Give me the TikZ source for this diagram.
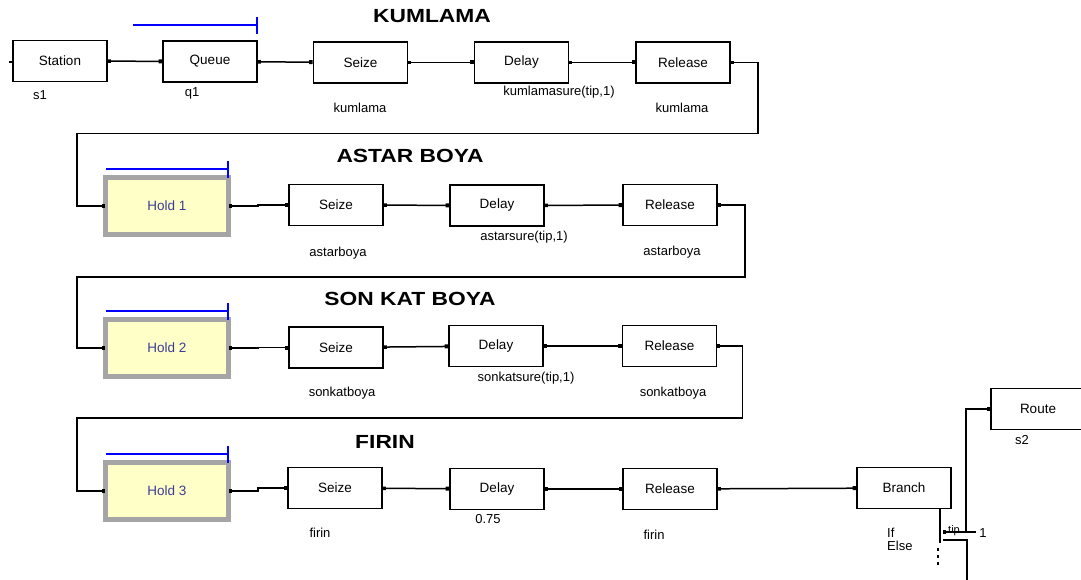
\documentclass[tikz,border=0pt]{standalone}
\usepackage{fontspec}
\setmainfont{Liberation Sans}
\newfontfamily\titlefont[FakeStretch=1.2]{Liberation Sans Bold}
\usetikzlibrary{arrows.meta}
\definecolor{holdfill}{RGB}{255,255,200}
\definecolor{holdtext}{RGB}{60,60,150}
\definecolor{holdgray}{RGB}{165,165,165}
\definecolor{qblue}{RGB}{0,0,255}

\tikzset{
  module/.style={draw, line width=1.8pt, minimum width=94pt, minimum height=41pt,
    inner sep=0pt, font=\fontsize{13.5}{15}\selectfont},
  hold/.style={draw=black!60, double=holdgray, double distance=4.2pt, line width=0.7pt,
    fill=holdfill, minimum width=123pt, minimum height=57pt, inner sep=0pt,
    text=holdtext, font=\fontsize{13.5}{15}\selectfont},
  lbl/.style={font=\fontsize{13}{14}\selectfont, inner sep=0pt},
  title/.style={font=\titlefont\fontsize{19}{22}\selectfont, inner sep=0pt},
  flow/.style={line width=1.5pt, {Square[length=3pt,width=3.5pt]}-{Square[length=3.5pt,width=4pt]}},
  qbar/.style={qblue, line width=1.6pt, -{Bar[width=17pt,line width=1.6pt]}},
}

\begin{document}
\begin{tikzpicture}[x=1pt, y=-1pt]
\clip (0,0) rectangle (1081,580);

% titles
\node[title] (tK) at (432,16) {KUMLAMA};
\node[title] (tA) at (410,156) {ASTAR BOYA};
\node[title] (tS) at (410,299) {SON KAT BOYA};
\node[title] (tF) at (385,442) {FIRIN};

% kumlama
\node[module] (station) at (60,61) {Station};
\node[module] (queue) at (210,61.5) {Queue};
\node[module] (seize1) at (360.5,62.5) {Seize};
\node[module] (delay1) at (521.5,62.5) {Delay};
\node[module] (release1) at (683,62.5) {Release};
\node[lbl] (s1) at (40,95) {s1};
\node[lbl] (q1) at (192,93) {q1};
\node[lbl] (r1a) at (360,108) {kumlama};
\node[lbl] (d1) at (559,92) {kumlamasure(tip,1)};
\node[lbl] (r1b) at (682,108) {kumlama};
\draw[qbar] ([xshift=-29pt,yshift=15pt]queue.north west) -- ([yshift=15pt]queue.north east);
\fill ([xshift=-3pt]station.west) rectangle ++(3,2.5);

\draw[flow] (station) -- (queue);
\draw[flow] (queue) -- (seize1);
\draw[flow] (seize1) -- (delay1);
\draw[flow] (delay1) -- (release1);

% astar boya
\node[hold] (hold1) at (167,206) {Hold 1};
\node[module] (seize2) at (336,205) {Seize};
\node[module] (delay2) at (497,205.5) {Delay};
\node[module] (release2) at (670,205) {Release};
\node[lbl] (r2a) at (338,253) {astarboya};
\node[lbl] (d2) at (524,237) {astarsure(tip,1)};
\node[lbl] (r2b) at (672,252) {astarboya};
\draw[qbar] ([xshift=1pt,yshift=8pt]hold1.north west) -- ([yshift=8pt]hold1.north east);

\draw[flow] (release1.east) -| ++(27,71) -| ([xshift=-28pt]hold1.west) -- (hold1.west);
\draw[flow] (hold1.east) -- ++(29,0) |- (seize2.west);
\draw[flow] (seize2) -- (delay2);
\draw[flow] (delay2) -- (release2);

% son kat boya
\node[hold] (hold2) at (167,348) {Hold 2};
\node[module] (seize3) at (336,347.5) {Seize};
\node[module] (delay3) at (496,346) {Delay};
\node[module] (release3) at (669.5,346) {Release};
\node[lbl] (r3a) at (342,393) {sonkatboya};
\node[lbl] (d3) at (526,378) {sonkatsure(tip,1)};
\node[lbl] (r3b) at (673,393) {sonkatboya};
\draw[qbar] ([xshift=1pt,yshift=8pt]hold2.north west) -- ([yshift=8pt]hold2.north east);

\draw[flow] (release2.east) -| ++(27,72) -| ([xshift=-28pt]hold2.west) -- (hold2.west);
\draw[flow] (hold2.east) -- ++(29,0) |- (seize3.west);
\draw[flow] (seize3) -- (delay3);
\draw[flow] (delay3) -- (release3);

% firin
\node[hold] (hold3) at (167,491) {Hold 3};
\node[module] (seize4) at (335,488) {Seize};
\node[module] (delay4) at (497,489) {Delay};
\node[module] (release4) at (670,489) {Release};
\node[module] (branch) at (904,488) {Branch};
\node[module] (route) at (1038,409) {Route};
\node[lbl] (r4a) at (320,533) {firin};
\node[lbl] (d4) at (488,519) {0.75};
\node[lbl] (r4b) at (654,535) {firin};
\node[lbl] (s2) at (1022,440) {s2};
\node[lbl, anchor=west] (bif) at (887,533) {If};
\node[lbl, anchor=west] (belse) at (887,546) {Else};
\draw[qbar] ([xshift=1pt,yshift=8pt]hold3.north west) -- ([yshift=8pt]hold3.north east);

\draw[flow] (release3.east) -| ++(25,72) -| ([xshift=-28pt]hold3.west) -- (hold3.west);
\draw[flow] (hold3.east) -- ++(29,0) |- (seize4.west);
\draw[flow] (seize4) -- (delay4);
\draw[flow] (delay4) -- (release4);
\draw[flow] (release4) -- (branch);

% branch exits
\coordinate (ex1) at (943,532);
\coordinate (ex2) at (943,540);
\coordinate (down) at (967,590);
\draw[line width=1.5pt] ([xshift=-12pt]branch.south east) -- ++(0,34);
\draw[flow] (ex1) -- ++(23,0) |- (route.west);
\draw[line width=1.5pt] (ex2) -| (down);
\draw[line width=1.2pt] (966,532) -- (976,532);
\node[lbl, font=\fontsize{11}{12}\selectfont] (tip) at (954,531) {tip};
\node[lbl] (one) at (983,533) {1};
\foreach \y in {548,555,562}
  \fill (937,\y) rectangle ++(2,2.5);
\end{tikzpicture}
\end{document}
